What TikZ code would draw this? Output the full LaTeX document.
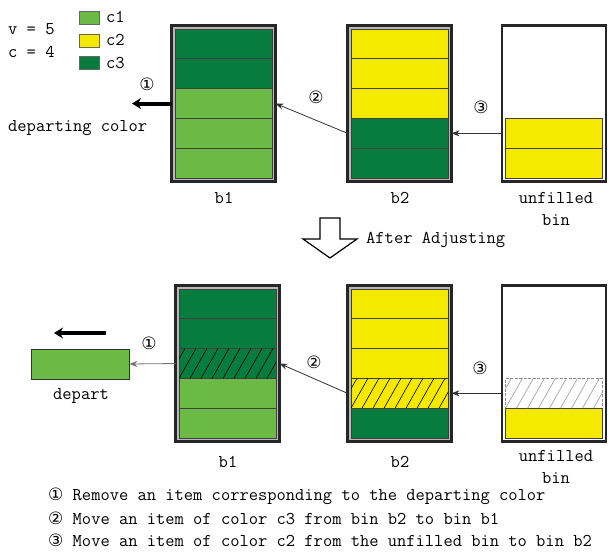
\documentclass[tikz,border=0pt]{standalone}
\usepackage{fontspec}
\newfontfamily\symf{DejaVu Sans}
\usetikzlibrary{arrows.meta}
\definecolor{lg}{RGB}{108,186,70}
\definecolor{dg}{RGB}{8,124,62}
\definecolor{yl}{RGB}{245,233,0}
\tikzset{
 bin/.style={draw=black!85, line width=2.6pt, fill=black!28, minimum width=104pt, minimum height=156pt, inner sep=0pt, outer sep=0pt},
 ubin/.style={bin, fill=white},
 cell/.style={draw=black!75, line width=0.7pt, minimum width=97pt, minimum height=29.8pt, inner sep=0pt, outer sep=0pt},
 lbl/.style={font=\fontsize{18}{20}\selectfont\ttfamily, inner sep=0pt},
 num/.style={font=\symf\fontsize{17}{18}\selectfont, inner sep=0pt},
 sq/.style={draw=black!60, line width=0.8pt, minimum width=20pt, minimum height=13pt, inner sep=0pt},
 mv/.style={draw=black!80, line width=0.8pt, -{Stealth[length=8pt,width=6pt]}},
 big/.style={line width=4pt, -{Stealth[length=9pt,width=11pt]}},
 hatch/.style={line width=0.6pt},
}
\begin{document}
\begin{tikzpicture}[x=1pt,y=-1pt]
\useasboundingbox (0,0) rectangle (609,557);
% legend
\node[lbl, anchor=west] (v) at (8,29) {v = 5};
\node[lbl, anchor=west] (c) at (8,52) {c = 4};
\node[sq, fill=lg] (s1) at (89,18) {};
\node[sq, fill=yl] (s2) at (89,40.5) {};
\node[sq, fill=dg] (s3) at (89,63) {};
\node[lbl, anchor=west] (l1) at (106,17) {c1};
\node[lbl, anchor=west] (l2) at (106,40) {c2};
\node[lbl, anchor=west] (l3) at (106,63) {c3};
% ---------------- top row
\node[bin] (t1) at (223.5,103.5) {};
\foreach \cc [count=\i] in {dg,dg,lg,lg,lg}
  \node[cell, fill=\cc] (t1c\i) at (223.5,{29+29.8*(\i-0.5)}) {};
\node[bin] (t2) at (399.5,103.5) {};
\foreach \cc [count=\i] in {yl,yl,yl,dg,dg}
  \node[cell, fill=\cc] (t2c\i) at (399.5,{29+29.8*(\i-0.5)}) {};
\node[ubin] (tu) at (554,103.5) {};
\node[cell, fill=yl] (tuc4) at (554,133.3) {};
\node[cell, fill=yl] (tuc5) at (554,163.1) {};
\node[lbl] (tb1) at (224,198) {b1};
\node[lbl] (tb2) at (400,198) {b2};
\node[lbl] (tbu) at (556,198) {unfilled};
\node[lbl] (tbu2) at (556,220) {bin};
% top arrows
\coordinate (td) at (132,103.5);
\draw[big] (t1.west |- t1c3) -- (td);
\node[num] (n1t) at (147,84) {①};
\node[lbl, anchor=west] (dc) at (8,128) {departing color};
\draw[mv] (t2.west |- t2c4) -- (t1.east |- t1c3);
\node[num] (n2t) at (316,97) {②};
\draw[mv] (tu.west |- tuc4) -- (t2.east |- t2c4);
\node[num] (n3t) at (481,107) {③};
% adjusting arrow
\draw[line width=1.2pt, line join=miter] (320,218) -- (340,218) -- (340,239) -- (357,239) -- (330,258) -- (303,239) -- (320,239) -- cycle;
\node[lbl, anchor=west] (adj) at (366,240) {After Adjusting};
% ---------------- bottom row
\node[bin] (b1) at (227.5,363.5) {};
\foreach \cc [count=\i] in {dg,dg,dg,lg,lg}
  \node[cell, fill=\cc] (b1c\i) at (227.5,{289+29.8*(\i-0.5)}) {};
\node[bin] (b2) at (399.5,363.5) {};
\foreach \cc [count=\i] in {yl,yl,yl,yl,dg}
  \node[cell, fill=\cc] (b2c\i) at (399.5,{289+29.8*(\i-0.5)}) {};
\node[ubin] (bu) at (554,363.5) {};
\node[cell, draw=black!45, dashed, dash pattern=on 3pt off 1.5pt, fill=white] (buc4) at (554,393.3) {};
\node[cell, fill=yl] (buc5) at (554,423.1) {};
% hatching
\begin{scope}
  \clip (b1c3.south west) rectangle (b1c3.north east);
  \foreach \k in {-3,...,10} \draw[hatch] ([xshift={\k*11pt}]b1c3.south west) -- ++(17,-30);
\end{scope}
\begin{scope}
  \clip (b2c4.south west) rectangle (b2c4.north east);
  \foreach \k in {-3,...,10} \draw[hatch] ([xshift={\k*11pt}]b2c4.south west) -- ++(17,-30);
\end{scope}
\begin{scope}
  \clip (buc4.south west) rectangle (buc4.north east);
  \foreach \k in {-3,...,10} \draw[hatch, draw=black!45, line width=0.5pt] ([xshift={\k*11pt}]buc4.south west) -- ++(17,-30);
\end{scope}
\node[lbl] (bb1) at (228,462) {b1};
\node[lbl] (bb2) at (400,462) {b2};
\node[lbl] (bbu) at (556,456) {unfilled};
\node[lbl] (bbu2) at (556,478) {bin};
% depart
\node[draw=black!80, line width=0.8pt, fill=lg, minimum width=98pt, minimum height=30pt, inner sep=0pt] (dep) at (80,364) {};
\node[lbl] (depl) at (81,396) {depart};
\coordinate (da) at (106,333);
\coordinate (db) at (54,333);
\draw[big] (da) -- (db);
\draw[mv, draw=black!55] (b1.west |- b1c3) -- (dep.east);
\node[num] (n1b) at (149,343) {①};
\draw[mv] (b2.west |- b2c4) -- (b1.east |- b1c3);
\node[num] (n2b) at (314,362) {②};
\draw[mv] (bu.west |- buc4) -- (b2.east |- b2c4);
\node[num] (n3b) at (480,368) {③};
% notes
\node[lbl, anchor=west] (t1n) at (48,496) {{\symf\fontsize{17}{18}\selectfont ①} Remove an item corresponding to the departing color};
\node[lbl, anchor=west] (t2n) at (48,518) {{\symf\fontsize{17}{18}\selectfont ②} Move an item of color c3 from bin b2 to bin b1};
\node[lbl, anchor=west] (t3n) at (48,540) {{\symf\fontsize{17}{18}\selectfont ③} Move an item of color c2 from the unfilled bin to bin b2};
\end{tikzpicture}
\end{document}
